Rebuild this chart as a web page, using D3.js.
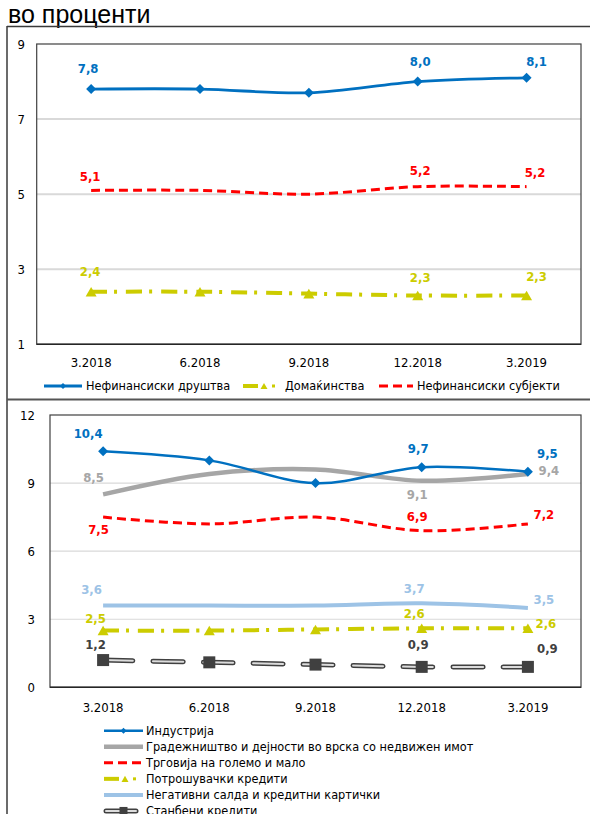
<!DOCTYPE html>
<html>
<head>
<meta charset="utf-8">
<script src="https://cdn.jsdelivr.net/npm/d3@7"></script>
<style>
  html, body { margin: 0; padding: 0; background: #fff; }
  svg { display: block; }
  .tick-label { font-family: "DejaVu Sans Condensed", "DejaVu Sans", sans-serif; font-size: 13px; fill: #000; }
  .legend-label { font-family: "DejaVu Sans Condensed", "DejaVu Sans", sans-serif; font-size: 12.6px; fill: #000; }
  .value-label { font-family: "DejaVu Sans Condensed", "DejaVu Sans", sans-serif; font-size: 13px; font-weight: bold; }
</style>
</head>
<body>
<svg id="chart" width="590" height="814"></svg>
<script>
// Periods on the horizontal axis (shared by both panels)
const periods = ["3.2018", "6.2018", "9.2018", "12.2018", "3.2019"];

// Upper panel: sectors, in percent
const topTicks = [1, 3, 5, 7, 9];
const nonfinCorporations = [7.8, 7.8, 7.7, 8.0, 8.1];
const households = [2.4, 2.4, 2.35, 2.3, 2.3];
const nonfinEntities = [5.1, 5.1, 5.0, 5.2, 5.2];

// Lower panel: activities and loan types, in percent
const bottomTicks = [0, 3, 6, 9, 12];
const industry = [10.4, 10.0, 9.0, 9.7, 9.5];
const construction = [8.5, 9.4, 9.6, 9.1, 9.4];
const trade = [7.5, 7.2, 7.5, 6.9, 7.2];
const consumerLoans = [2.5, 2.5, 2.55, 2.6, 2.6];
const overdrafts = [3.6, 3.6, 3.6, 3.7, 3.5];
const housingLoans = [1.2, 1.1, 1.0, 0.9, 0.9];

const svg = d3.select("#chart");
const fmt = v => d3.format(".1f")(v).replace(".", ",");

// Title
svg.append("text")
  .attr("x", 8).attr("y", 23)
  .style("font-family", "'Liberation Sans', Arial, sans-serif")
  .style("font-size", "25px")
  .text("во проценти");

// Outer frame of the two panels
const frame = svg.append("g").attr("stroke", "#3a3a3a").attr("fill", "none");
frame.append("line").attr("x1", 7).attr("x2", 590).attr("y1", 26.5).attr("y2", 26.5).attr("stroke-width", 1.5);
frame.append("line").attr("x1", 7).attr("x2", 7).attr("y1", 26).attr("y2", 814).attr("stroke-width", 1.5);
frame.append("line").attr("x1", 7).attr("x2", 590).attr("y1", 399.5).attr("y2", 399.5).attr("stroke-width", 2).attr("stroke", "#555");

// Marker helpers
function marker(g, type, x, y, color, size) {
  if (type === "diamond") {
    g.append("path").attr("d", d3.symbol(d3.symbolSquare, size * size * 0.5)())
      .attr("transform", `translate(${x},${y}) rotate(45)`).attr("fill", color);
  } else if (type === "triangle") {
    const h = size * 0.87;
    g.append("path")
      .attr("d", `M${x},${y - h / 2}L${x + size / 2},${y + h / 2}L${x - size / 2},${y + h / 2}Z`)
      .attr("fill", color);
  } else if (type === "square") {
    g.append("rect").attr("x", x - size / 2).attr("y", y - size / 2)
      .attr("width", size).attr("height", size).attr("fill", color);
  }
}

function strokeSeries(g, pathD, s) {
  if (s.style === "double") {
    g.append("path").attr("d", pathD).attr("fill", "none")
      .attr("stroke", "#404040").attr("stroke-width", 5)
      .attr("stroke-dasharray", "30,20").attr("stroke-linecap", "round");
    g.append("path").attr("d", pathD).attr("fill", "none")
      .attr("stroke", "#dcdcdc").attr("stroke-width", 2)
      .attr("stroke-dasharray", "30,20").attr("stroke-linecap", "round");
  } else {
    g.append("path").attr("d", pathD).attr("fill", "none")
      .attr("stroke", s.color).attr("stroke-width", s.width)
      .attr("stroke-dasharray", s.dash || null)
      .attr("stroke-linecap", "butt");
  }
}

function drawPanel(cfg) {
  const { left, right, top, bottom, domain, ticks, series, tickRight, xLabelY } = cfg;
  const x = d3.scaleBand().domain(periods).range([left, right]);
  const xc = p => x(p) + x.bandwidth() / 2;
  const y = d3.scaleLinear().domain(domain).range([bottom, top]);
  const g = svg.append("g");

  // horizontal gridlines
  g.append("g").selectAll("line").data(ticks.filter(t => t !== domain[0] && t !== domain[1]))
    .join("line")
    .attr("x1", left).attr("x2", right)
    .attr("y1", d => y(d)).attr("y2", d => y(d))
    .attr("stroke", "#d9d9d9").attr("stroke-width", cfg.gridWidth);

  // value axis labels
  const yAxis = d3.axisLeft(y).tickValues(ticks).tickSize(0).tickPadding(0).tickFormat(d3.format("d"));
  const ya = g.append("g").attr("transform", `translate(${tickRight},0)`).call(yAxis);
  ya.select(".domain").remove();
  ya.selectAll("text").attr("class", "tick-label").attr("font-family", null).attr("font-size", null);

  // category axis labels
  const xAxis = d3.axisBottom(x).tickSize(0).tickPadding(0);
  const xa = g.append("g").attr("transform", `translate(0,${xLabelY})`).call(xAxis);
  xa.select(".domain").remove();
  xa.selectAll("text").attr("class", "tick-label").attr("font-family", null).attr("font-size", null)
    .attr("dy", "0.35em").attr("y", 0);

  // plot area border
  g.append("rect").attr("x", left).attr("y", top)
    .attr("width", right - left).attr("height", bottom - top)
    .attr("fill", "none").attr("stroke", "#404040").attr("stroke-width", 1.2);
  g.append("line").attr("x1", left).attr("x2", right).attr("y1", bottom).attr("y2", bottom)
    .attr("stroke", "#262626").attr("stroke-width", 1.6);

  const line = d3.line().x((d, i) => xc(periods[i])).y(d => y(d)).curve(d3.curveCardinal.tension(0));

  series.forEach(s => {
    const sg = g.append("g");
    strokeSeries(sg, line(s.values), s);
    if (s.marker) {
      s.values.forEach((v, i) => marker(sg, s.marker, xc(periods[i]), y(v), s.markerColor || s.color, s.markerSize));
    }
    s.labels.forEach(([i, dx, dy]) => {
      sg.append("text").attr("class", "value-label")
        .attr("x", xc(periods[i]) + dx).attr("y", y(s.values[i]) + dy)
        .attr("text-anchor", "middle").attr("fill", s.labelColor || s.color)
        .text(fmt(s.values[i]));
    });
  });
}

function legendSample(g, s, x0, x1, yc) {
  const mid = (x0 + x1) / 2;
  if (s.style === "double") {
    strokeSeries(g, `M${x0 + 2},${yc}L${x1 - 2},${yc}`, { style: "double" });
    marker(g, "square", mid, yc, "#404040", 8);
  } else if (s.legendType === "dashdot") {
    g.append("line").attr("x1", x0).attr("x2", x0 + 15).attr("y1", yc).attr("y2", yc)
      .attr("stroke", s.color).attr("stroke-width", s.width);
    marker(g, "triangle", x0 + 21, yc, s.color, 7);
    g.append("rect").attr("x", x0 + 29).attr("y", yc - 1.5).attr("width", 3).attr("height", 3).attr("fill", s.color);
  } else {
    g.append("line").attr("x1", x0).attr("x2", x1).attr("y1", yc).attr("y2", yc)
      .attr("stroke", s.color).attr("stroke-width", s.legendWidth || s.width)
      .attr("stroke-dasharray", s.dash || null);
    if (s.marker === "diamond") marker(g, "diamond", mid, yc, s.color, 6);
  }
}

// ---- Upper panel ----
const topSeries = [
  { name: "Нефинансиски друштва", values: nonfinCorporations, color: "#0070C0", width: 2.8,
    marker: "diamond", markerSize: 10,
    labels: [[0, -3, -16], [3, 2.5, -15.5], [4, 10, -12]] },
  { name: "Домаќинства", values: households, color: "#CCCC00", width: 4, dash: "16,7,3,9",
    marker: "triangle", markerSize: 11, legendType: "dashdot",
    labels: [[0, -1, -16], [3, 2.5, -13.5], [4, 10, -14.5]] },
  { name: "Нефинансиски субјекти", values: nonfinEntities, color: "#FF0000", width: 3, dash: "9,5",
    labels: [[0, -1, -9.5], [3, 2.5, -11.5], [4, 8.5, -10]] }
];

drawPanel({
  left: 36.7, right: 581, top: 44, bottom: 344.3, domain: [1, 9], ticks: topTicks,
  series: [topSeries[2], topSeries[1], topSeries[0]], tickRight: 25, xLabelY: 362, gridWidth: 2
});

const topLegend = svg.append("g");
const topLegendPos = [[44, 82, 86], [243, 281, 285], [379, 413, 417]];
topSeries.forEach((s, i) => {
  const [a, b, t] = topLegendPos[i];
  legendSample(topLegend, s, a, b, 386);
  topLegend.append("text").attr("class", "legend-label").attr("x", t).attr("y", 386)
    .attr("dy", "0.35em").text(s.name);
});

// ---- Lower panel ----
const bottomSeries = [
  { name: "Индустрија", values: industry, color: "#0070C0", width: 2.5,
    marker: "diamond", markerSize: 10,
    labels: [[0, -15, -13], [3, -3.5, -14.5], [4, 19.5, -13.5]] },
  { name: "Градежништво и дејности во врска со недвижен имот", values: construction, color: "#A6A6A6", width: 4.5,
    labels: [[0, -9.5, -12], [3, -4.5, 18.5], [4, 21, 1]] },
  { name: "Трговија на големо и мало", values: trade, color: "#FF0000", width: 3, dash: "9,5",
    labels: [[0, -4.5, 17], [3, -4.5, -10], [4, 16, -5]] },
  { name: "Потрошувачки кредити", values: consumerLoans, color: "#CCCC00", width: 4, dash: "16,7,3,9",
    marker: "triangle", markerSize: 11, legendType: "dashdot",
    labels: [[0, -7.5, -8], [3, -7.5, -10], [4, 18, 0]] },
  { name: "Негативни салда и кредитни картички", values: overdrafts, color: "#9DC3E6", width: 4,
    labels: [[0, -11.5, -11.3], [3, -7.5, -10], [4, 16, -4]] },
  { name: "Станбени кредити", values: housingLoans, color: "#404040", style: "double",
    marker: "square", markerSize: 12,
    labels: [[0, -7.5, -11], [3, -3.5, -17.5], [4, 19.5, -13.5]] }
];

drawPanel({
  left: 50, right: 581, top: 415, bottom: 687.3, domain: [0, 12], ticks: bottomTicks,
  series: [bottomSeries[5], bottomSeries[4], bottomSeries[3], bottomSeries[2], bottomSeries[1], bottomSeries[0]],
  tickRight: 35, xLabelY: 707, gridWidth: 1.2
});

const bottomLegend = svg.append("g");
bottomSeries.forEach((s, i) => {
  const yc = 730.7 + i * 16.05;
  legendSample(bottomLegend, s, 104, 143, yc);
  bottomLegend.append("text").attr("class", "legend-label").attr("x", 146).attr("y", yc)
    .attr("dy", "0.35em").text(s.name);
});
</script>
</body>
</html>
